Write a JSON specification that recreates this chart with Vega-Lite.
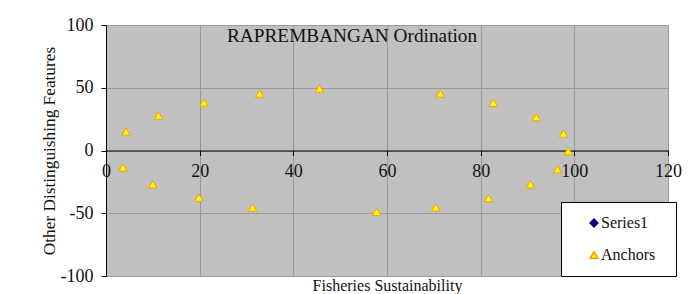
{
  "$schema": "https://vega.github.io/schema/vega-lite/v6.json",
  "width": 562,
  "height": 251,
  "autosize": {"type": "none"},
  "padding": {"left": 106, "top": 25, "right": 26, "bottom": 18},
  "background": "white",
  "title": {
    "text": "RAPREMBANGAN Ordination",
    "font": "Liberation Serif",
    "fontSize": 19.3,
    "fontWeight": "normal",
    "color": "#111111",
    "anchor": "start",
    "dx": 121,
    "offset": -30,
    "frame": "group"
  },
  "config": {
    "view": {"fill": "#c0c0c0", "stroke": "#8a8a8a", "strokeWidth": 1},
    "axis": {"labelFont": "Liberation Serif", "titleFont": "Liberation Serif", "labelColor": "#111111", "titleColor": "#111111", "titleFontWeight": "normal", "gridColor": "#9a9a9a", "gridOpacity": 1},
    "legend": {"labelFont": "Liberation Serif", "labelFontSize": 16, "labelColor": "#111111"}
  },
  "data": {
    "values": [
      {"x": 4.3, "y": 15.1, "series": "Anchors"},
      {"x": 11.2, "y": 27.8, "series": "Anchors"},
      {"x": 20.9, "y": 38.2, "series": "Anchors"},
      {"x": 32.8, "y": 45.4, "series": "Anchors"},
      {"x": 45.6, "y": 49.4, "series": "Anchors"},
      {"x": 71.4, "y": 45.4, "series": "Anchors"},
      {"x": 82.7, "y": 38.0, "series": "Anchors"},
      {"x": 91.9, "y": 26.5, "series": "Anchors"},
      {"x": 97.7, "y": 13.5, "series": "Anchors"},
      {"x": 98.7, "y": -0.5, "series": "Anchors"},
      {"x": 3.6, "y": -13.5, "series": "Anchors"},
      {"x": 10.0, "y": -27.0, "series": "Anchors"},
      {"x": 19.8, "y": -37.5, "series": "Anchors"},
      {"x": 31.3, "y": -45.5, "series": "Anchors"},
      {"x": 57.8, "y": -49.0, "series": "Anchors"},
      {"x": 70.4, "y": -45.4, "series": "Anchors"},
      {"x": 81.7, "y": -38.0, "series": "Anchors"},
      {"x": 90.6, "y": -27.0, "series": "Anchors"},
      {"x": 96.4, "y": -15.0, "series": "Anchors"}
    ]
  },
  "mark": {"type": "point", "filled": true, "size": 70, "strokeWidth": 1, "opacity": 1},
  "encoding": {
    "x": {
      "field": "x",
      "type": "quantitative",
      "scale": {"domain": [0, 120], "nice": false, "zero": false},
      "axis": {
        "orient": "bottom",
        "offset": -125.5,
        "values": [0, 20, 40, 60, 80, 100, 120],
        "domainColor": "#000000",
        "tickColor": "#000000",
        "tickSize": 5,
        "labelFontSize": 18,
        "labelPadding": 7,
        "labelFlush": false,
        "labelOverlap": false,
        "labelExpr": "replace(datum.label, '\u2212', '-')",
        "title": "Fisheries Sustainability",
        "titleFontSize": 16,
        "titleBaseline": "alphabetic",
        "titleY": 140
      }
    },
    "y": {
      "field": "y",
      "type": "quantitative",
      "scale": {"domain": [-100, 100], "nice": false},
      "axis": {
        "values": [-100, -50, 0, 50, 100],
        "domainColor": "#000000",
        "tickColor": "#000000",
        "tickSize": 5,
        "labelFontSize": 18,
        "labelPadding": 8,
        "labelExpr": "replace(datum.label, '\u2212', '-')",
        "title": "Other Distinguishing Features",
        "titleFontSize": 17.3,
        "titlePadding": 2
      }
    },
    "color": {
      "field": "series",
      "type": "nominal",
      "scale": {"domain": ["Series1", "Anchors"], "range": ["#000080", "#FFFF00"]},
      "legend": {
        "orient": "none",
        "legendX": 455,
        "legendY": 177,
        "title": "\u00a0",
        "titleOrient": "right",
        "titleFontSize": 16,
        "titlePadding": 8,
        "fillColor": "white",
        "strokeColor": "#000000",
        "padding": 13,
        "symbolOffset": 12,
        "labelFont": "Liberation Serif",
        "labelFontSize": 16,
        "labelColor": "#111111",
        "rowPadding": 16,
        "symbolSize": 60,
        "labelOffset": -1
      }
    },
    "shape": {
      "field": "series",
      "type": "nominal",
      "scale": {"domain": ["Series1", "Anchors"], "range": ["diamond", "triangle-up"]}
    },
    "stroke": {
      "field": "series",
      "type": "nominal",
      "scale": {"domain": ["Series1", "Anchors"], "range": ["#000080", "#FF9900"]}
    }
  }
}
